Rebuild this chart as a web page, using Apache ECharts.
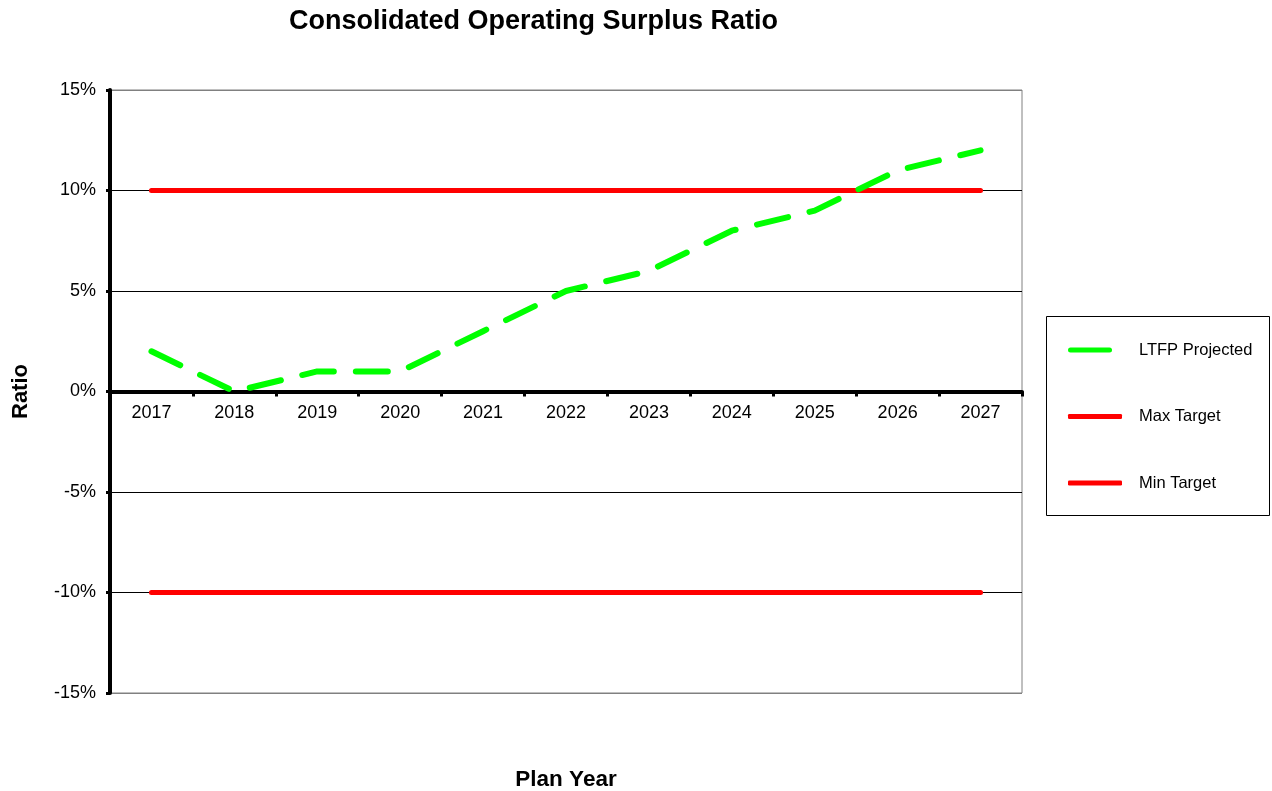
<!DOCTYPE html>
<html>
<head>
<meta charset="utf-8">
<script src="https://cdn.jsdelivr.net/npm/echarts@6/dist/echarts.min.js"></script>
<style>html,body{margin:0;padding:0;background:#fff;}#c{width:1272px;height:791px;}</style>
</head>
<body>
<div id="c"></div>
<script>
var years = ['2017','2018','2019','2020','2021','2022','2023','2024','2025','2026','2027'];
var ltfpProjected = [2, 0, 1, 1, 3, 5, 6, 8, 9, 11, 12];
var maxTarget = [10, 10, 10, 10, 10, 10, 10, 10, 10, 10, 10];
var minTarget = [-10, -10, -10, -10, -10, -10, -10, -10, -10, -10, -10];
var yTicks = [-15, -10, -5, 0, 5, 10, 15];

var chart = echarts.init(document.getElementById('c'));
var font = 'Liberation Sans, Arial, sans-serif';
chart.setOption({
  backgroundColor: '#fff',
  animation: false,
  title: {
    text: 'Consolidated Operating Surplus Ratio',
    left: 284, top: 3,
    textStyle: {fontFamily: font, fontSize: 27, fontWeight: 'bold', color: '#000'}
  },
  grid: {
    left: 110, right: 250, top: 90, bottom: 98,
    outerBoundsMode: 'none',
    containLabel: false,
    show: true, borderColor: '#808080', borderWidth: 1, backgroundColor: 'transparent'
  },
  legend: {
    orient: 'vertical',
    left: 1063, top: 335,
    itemWidth: 54, itemHeight: 5, itemGap: 46.5,
    icon: 'roundRect',
    textStyle: {fontFamily: font, fontSize: 16.5, color: '#000', lineHeight: 20, padding: [0,0,0,12]},
    data: [
      {name: 'LTFP Projected', itemStyle: {color: '#00ff00'}, icon: 'path://M2.5,0L41.5,0A2.5,2.5,0,0,1,41.5,5L2.5,5A2.5,2.5,0,0,1,2.5,0Z M54,5L54,5'},
      {name: 'Max Target', itemStyle: {color: '#ff0000'}},
      {name: 'Min Target', itemStyle: {color: '#ff0000'}}
    ]
  },
  graphic: [{
    type: 'rect',
    shape: {x: 1046.5, y: 316.5, width: 223, height: 199},
    style: {fill: 'none', stroke: '#000', lineWidth: 1}, z: -1
  }],
  xAxis: {
    type: 'category',
    data: years,
    boundaryGap: true,
    name: 'Plan Year',
    nameLocation: 'middle',
    nameGap: 75,
    axisLine: {onZero: true, lineStyle: {color: '#000', width: 4}},
    axisTick: {show: true, length: 5, lineStyle: {color: '#000', width: 3}},
    axisLabel: {fontFamily: font, fontSize: 18, color: '#000', margin: -289},
    nameTextStyle: {fontFamily: font, fontSize: 22.5, fontWeight: 'bold', color: '#000'},
    splitLine: {show: false}
  },
  yAxis: {
    type: 'value',
    min: yTicks[0], max: yTicks[yTicks.length - 1], interval: 5,
    name: 'Ratio',
    nameLocation: 'middle',
    nameGap: 78,
    nameTextStyle: {fontFamily: font, fontSize: 22, fontWeight: 'bold', color: '#000'},
    axisLine: {show: true, lineStyle: {color: '#000', width: 4}},
    axisTick: {show: true, length: 4, lineStyle: {color: '#000', width: 3}},
    axisLabel: {fontFamily: font, fontSize: 18, color: '#000', margin: 14, formatter: '{value}%'},
    splitLine: {show: true, lineStyle: {color: ['#808080','#000','#000','#000','#000','#000','#808080'], width: 1}}
  },
  series: [
    {
      name: 'Max Target', type: 'line', data: maxTarget, symbol: 'none', z: 3,
      lineStyle: {color: '#ff0000', width: 5, cap: 'round'},
      itemStyle: {color: '#ff0000'}
    },
    {
      name: 'Min Target', type: 'line', data: minTarget, symbol: 'none', z: 3,
      lineStyle: {color: '#ff0000', width: 5, cap: 'round'},
      itemStyle: {color: '#ff0000'}
    },
    {
      name: 'LTFP Projected', type: 'line', data: ltfpProjected, symbol: 'none', z: 4,
      lineStyle: {color: '#00ff00', width: 6, type: [32, 22], cap: 'round', join: 'round'},
      itemStyle: {color: '#00ff00'}
    }
  ]
});
</script>
</body>
</html>
